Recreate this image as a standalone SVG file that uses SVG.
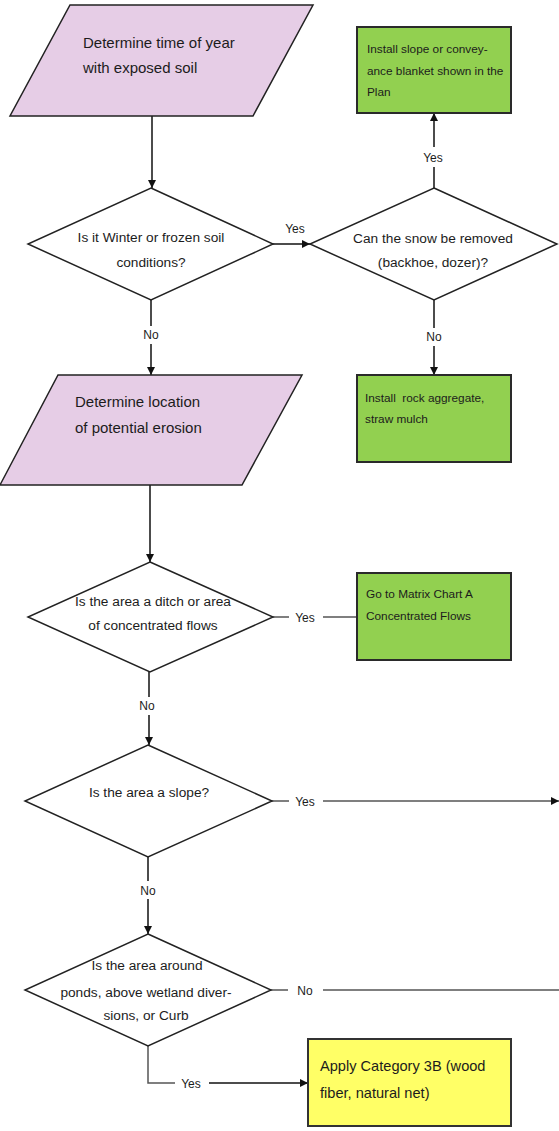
<svg xmlns="http://www.w3.org/2000/svg" width="559" height="1131" viewBox="0 0 559 1131">
  <style>
    .io { fill: #e6cde6; stroke: #222; stroke-width: 1.5; }
    .dec { fill: #ffffff; stroke: #222; stroke-width: 1.5; }
    .act { fill: #92d050; stroke: #2a2a2a; stroke-width: 2; }
    .act3 { fill: #ffff66; stroke: #333; stroke-width: 2; }
    text { font-family: "Liberation Sans", Arial, sans-serif; fill: #1c1c1c; }
    .t15 { font-size: 15px; }
    .t14 { font-size: 13.7px; text-anchor: middle; }
    .t12 { font-size: 11.8px; }
    .t145 { font-size: 14.6px; }
    .lbl { font-size: 12px; text-anchor: middle; }
    .ln { fill: none; stroke: #111; stroke-width: 1.5; }
    .lg { fill: none; stroke: #555; stroke-width: 1.5; }
  </style>
  <defs>
    <marker id="arrow" markerWidth="8" markerHeight="8" refX="8" refY="4" orient="auto" markerUnits="userSpaceOnUse">
      <path d="M0,0 L8,4 L0,8 Z" fill="#111"/>
    </marker>
  </defs>

  <!-- connectors -->
  <g id="connectors">
    <line class="ln" x1="152" y1="116" x2="152" y2="188" marker-end="url(#arrow)"/>
    <line class="ln" x1="273" y1="244" x2="310" y2="244" marker-end="url(#arrow)"/>
    <text class="lbl" x="295" y="233">Yes</text>
    <line class="ln" x1="434" y1="188" x2="434" y2="167"/>
    <line class="ln" x1="434" y1="147" x2="434" y2="113" marker-end="url(#arrow)"/>
    <text class="lbl" x="433" y="162">Yes</text>
    <line class="ln" x1="151" y1="300" x2="151" y2="326"/>
    <line class="ln" x1="151" y1="344" x2="151" y2="375" marker-end="url(#arrow)"/>
    <text class="lbl" x="151" y="339">No</text>
    <line class="ln" x1="434" y1="300" x2="434" y2="328"/>
    <line class="ln" x1="434" y1="346" x2="434" y2="375" marker-end="url(#arrow)"/>
    <text class="lbl" x="434" y="341">No</text>
    <line class="ln" x1="150" y1="485" x2="150" y2="562" marker-end="url(#arrow)"/>
    <line class="lg" x1="273" y1="617" x2="289" y2="617"/>
    <line class="lg" x1="323" y1="617" x2="357" y2="617"/>
    <text class="lbl" x="305" y="622">Yes</text>
    <line class="ln" x1="149" y1="672" x2="149" y2="697"/>
    <line class="ln" x1="149" y1="715" x2="149" y2="745" marker-end="url(#arrow)"/>
    <text class="lbl" x="147" y="710">No</text>
    <line class="lg" x1="272" y1="801" x2="289" y2="801"/>
    <line class="lg" x1="323" y1="801" x2="559" y2="801" marker-end="url(#arrow)"/>
    <text class="lbl" x="305" y="806">Yes</text>
    <line class="ln" x1="148" y1="857" x2="148" y2="881"/>
    <line class="ln" x1="148" y1="899" x2="148" y2="934" marker-end="url(#arrow)"/>
    <text class="lbl" x="148" y="895">No</text>
    <line class="lg" x1="271" y1="990" x2="288" y2="990"/>
    <line class="lg" x1="323" y1="990" x2="559" y2="990"/>
    <text class="lbl" x="305" y="995">No</text>
    <polyline class="lg" points="148,1046 148,1083 175,1083"/>
    <line class="ln" x1="209" y1="1083" x2="308" y2="1083" marker-end="url(#arrow)"/>
    <text class="lbl" x="191" y="1088">Yes</text>
  </g>

  <!-- start: time of year -->
  <g id="n-time-of-year">
    <polygon class="io" points="70,5 313,5 253,116 10,116"/>
    <text class="t15" x="83" y="48">Determine time of year</text>
    <text class="t15" x="83" y="73">with exposed soil</text>
  </g>

  <!-- install slope blanket -->
  <g id="n-slope-blanket">
    <rect class="act" x="357" y="27" width="154" height="86"/>
    <text class="t12" x="367" y="53">Install slope or convey-</text>
    <text class="t12" x="367" y="75">ance blanket shown in the</text>
    <text class="t12" x="367" y="96">Plan</text>
  </g>

  <!-- winter decision -->
  <g id="n-winter">
    <polygon class="dec" points="151,188 273,244 151,300 28,244"/>
    <text class="t14" x="151" y="242">Is it Winter or frozen soil</text>
    <text class="t14" x="151" y="267">conditions?</text>
  </g>

  <!-- snow removal decision -->
  <g id="n-snow">
    <polygon class="dec" points="434,188 557,244 434,300 310,244"/>
    <text class="t14" x="433" y="243">Can the snow be removed</text>
    <text class="t14" x="433" y="267">(backhoe, dozer)?</text>
  </g>

  <!-- location of erosion -->
  <g id="n-location">
    <polygon class="io" points="58,375 302,375 242,485 0,485"/>
    <text class="t15" x="75" y="407">Determine location</text>
    <text class="t15" x="75" y="433">of potential erosion</text>
  </g>

  <!-- rock aggregate -->
  <g id="n-rock">
    <rect class="act" x="357" y="375" width="154" height="87"/>
    <text class="t12" x="365" y="402" xml:space="preserve">Install  rock aggregate,</text>
    <text class="t12" x="365" y="423">straw mulch</text>
  </g>

  <!-- ditch decision -->
  <g id="n-ditch">
    <polygon class="dec" points="150,562 273,617 150,672 28,617"/>
    <text class="t14" x="153" y="606">Is the area a ditch or area</text>
    <text class="t14" x="153" y="630">of concentrated flows</text>
  </g>

  <!-- matrix chart A -->
  <g id="n-matrix-a">
    <rect class="act" x="357" y="573" width="154" height="87"/>
    <text class="t12" x="366" y="598">Go to Matrix Chart A</text>
    <text class="t12" x="366" y="620">Concentrated Flows</text>
  </g>

  <!-- slope decision -->
  <g id="n-slope">
    <polygon class="dec" points="148,745 272,801 148,857 25,801"/>
    <text class="t14" x="149" y="797">Is the area a slope?</text>
  </g>

  <!-- ponds decision -->
  <g id="n-ponds">
    <polygon class="dec" points="148,934 271,990 148,1046 25,990"/>
    <text class="t14" x="147" y="970">Is the area around</text>
    <text class="t14" x="146" y="997">ponds, above wetland diver-</text>
    <text class="t14" x="146" y="1020">sions, or Curb</text>
  </g>

  <!-- category 3B -->
  <g id="n-category-3b">
    <rect class="act3" x="308" y="1039" width="203" height="87"/>
    <text class="t145" x="320" y="1071">Apply Category 3B (wood</text>
    <text class="t145" x="320" y="1098">fiber, natural net)</text>
  </g>
</svg>
